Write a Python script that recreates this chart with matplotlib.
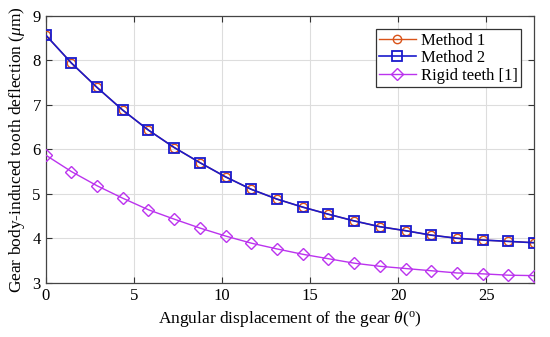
import numpy as np
import matplotlib
matplotlib.use("Agg")
import matplotlib.pyplot as plt

plt.rcParams['font.family'] = ['Liberation Serif', 'DejaVu Serif']
plt.rcParams['mathtext.fontset'] = 'custom'
plt.rcParams['mathtext.it'] = 'Liberation Serif:italic'
plt.rcParams['mathtext.rm'] = 'Liberation Serif'

theta = np.linspace(0, 27.7, 20)
method2 = [8.57, 7.94, 7.39, 6.88, 6.43, 6.04, 5.70, 5.38, 5.10, 4.88,
           4.70, 4.54, 4.39, 4.26, 4.17, 4.07, 4.00, 3.96, 3.93, 3.90]
method1 = list(method2)
rigid = [5.87, 5.50, 5.18, 4.90, 4.64, 4.43, 4.23, 4.05, 3.89, 3.76,
         3.64, 3.54, 3.44, 3.37, 3.32, 3.27, 3.22, 3.20, 3.17, 3.16]
xticks = [0, 5, 10, 15, 20, 25]
yticks = [3, 4, 5, 6, 7, 8, 9]

fig = plt.figure(figsize=(5.5, 3.37), dpi=100)
ax = fig.add_axes([0.083, 0.161, 0.888, 0.792])

ax.plot(theta, method1, color='#D95319', marker='o', markersize=6,
        markerfacecolor='none', lw=1.0, label='Method 1', zorder=3)
ax.plot(theta, method2, color='#1a1acc', marker='s', markersize=7.5,
        markerfacecolor='none', markeredgewidth=1.3, lw=1.2, label='Method 2', zorder=4)
ax.plot(theta, rigid, color='#bb33ee', marker='D', markersize=6,
        markerfacecolor='none', lw=1.0, label='Rigid teeth [1]', zorder=3)

ax.set_xlim(0, 27.7)
ax.set_ylim(3, 9)
ax.set_xticks(xticks)
ax.set_yticks(yticks)
ax.grid(True, color='#dddddd', lw=0.8)
ax.set_axisbelow(True)
ax.tick_params(direction='in', top=True, right=True, labelsize=12, length=4,
               color='#333333')
for s in ax.spines.values():
    s.set_color('#444444')
    s.set_linewidth(0.9)

ax.set_xlabel(r'Angular displacement of the gear $\theta$($^{\mathrm{o}}$)', fontsize=12.5)
ax.set_ylabel(r'Gear body-induced tooth deflection ($\mu$m)', fontsize=12.5)

leg = ax.legend(loc='upper right', fontsize=12, fancybox=False, framealpha=1,
                edgecolor='#333333', handlelength=2.2, borderpad=0.2,
                labelspacing=0.1, handletextpad=0.3, borderaxespad=0.8)
leg.get_frame().set_linewidth(0.9)

fig.savefig('out.png', dpi=100)
